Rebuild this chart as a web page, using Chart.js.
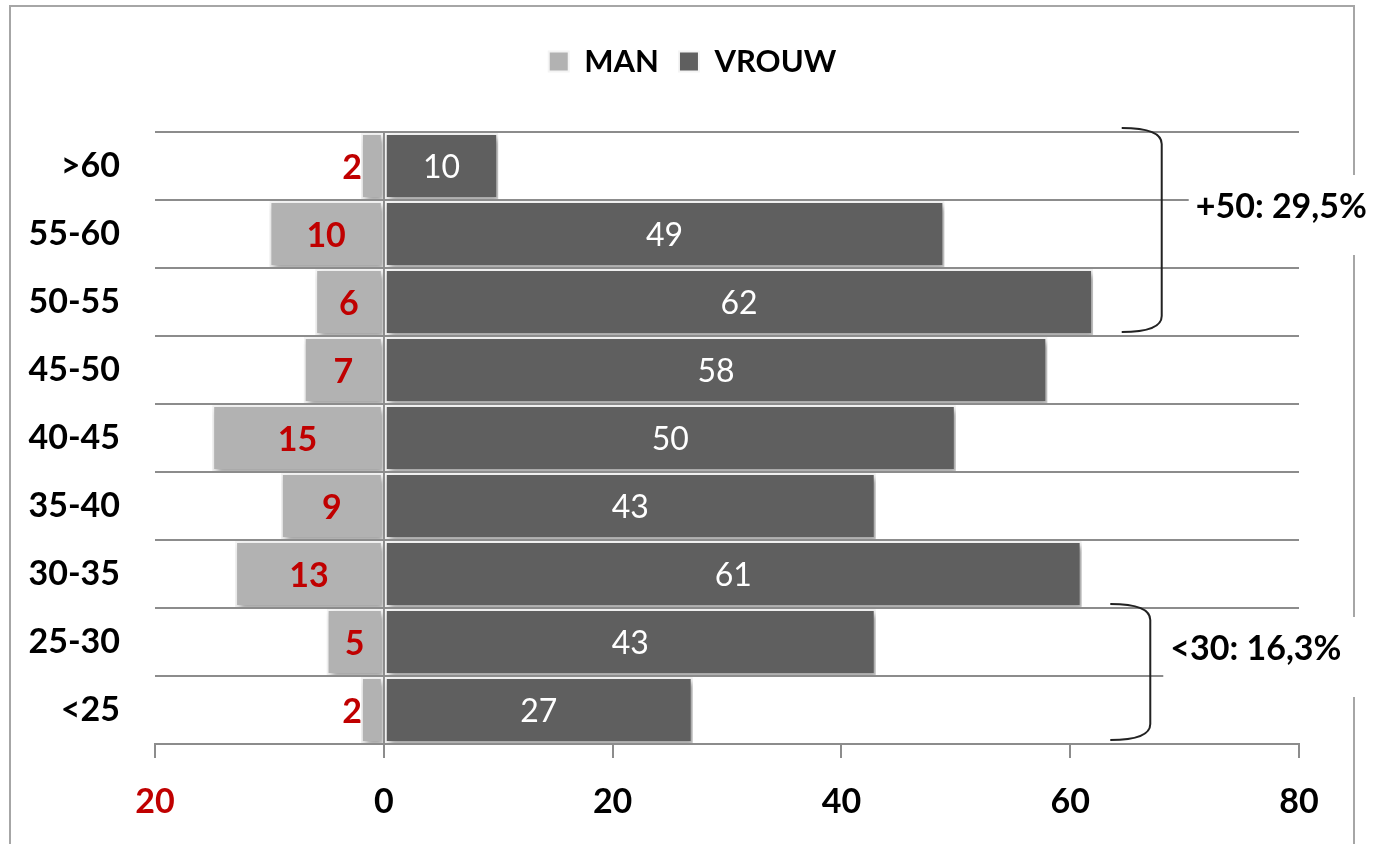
<!DOCTYPE html>
<html>
<head>
<meta charset="utf-8">
<script src="https://cdn.jsdelivr.net/npm/chart.js@4.4.0/dist/chart.umd.min.js"></script>
<style>
  html, body { margin: 0; background: #fff; }
  #wrap { width: 1375px; height: 844px; }
</style>
</head>
<body>
<div id="wrap"><canvas id="pyramidChart"></canvas></div>
<script>
// data
const ageGroups = ['>60', '55-60', '50-55', '45-50', '40-45', '35-40', '30-35', '25-30', '<25'];
const menCounts = [2, 10, 6, 7, 15, 9, 13, 5, 2];
const womenCounts = [10, 49, 62, 58, 50, 43, 61, 43, 27];
const xTickValues = [-20, 0, 20, 40, 60, 80];
const bracketFirst = ['>60', '25-30'];
const bracketLast = ['50-55', '<25'];
const bracketText = ['+50: 29,5%', '<30: 16,3%'];

const GRID = '#8c8c8c';

// men are drawn to the left, so negate
const menNeg = menCounts.map(v => -v);

// bar shadow like the excel original
const barShadow = {
    id: 'barShadow',
    beforeDatasetDraw(chart) {
        const c = chart.ctx;
        c.save();
        c.shadowColor = 'rgba(0,0,0,0.35)';
        c.shadowBlur = 6;
        c.shadowOffsetX = 3;
        c.shadowOffsetY = 4;
    },
    afterDatasetDraw(chart) {
        chart.ctx.restore();
    }
};

// value labels in the bars
const barLabels = {
    id: 'barLabels',
    afterDatasetsDraw(chart) {
        const c = chart.ctx;
        c.save();
        c.textBaseline = 'middle';
        // men
        chart.getDatasetMeta(0).data.forEach((bar, i) => {
            const txt = String(menCounts[i]);
            c.font = 'bold 34px Lato, sans-serif';
            c.fillStyle = '#c00000';
            const w = c.measureText(txt).width;
            const barW = Math.abs(bar.base - bar.x);
            if (w + 8 > barW) {
                c.textAlign = 'right';
                c.fillText(txt, bar.x + 1, bar.y + 2);
            } else {
                c.textAlign = 'center';
                c.fillText(txt, (bar.x + bar.base) / 2, bar.y + 2);
            }
        });
        // women
        chart.getDatasetMeta(1).data.forEach((bar, i) => {
            c.font = '32px Lato, sans-serif';
            c.fillStyle = '#ffffff';
            c.textAlign = 'center';
            c.fillText(String(womenCounts[i]), (bar.x + bar.base) / 2, bar.y + 2);
        });
        c.restore();
    }
};

// frame and the two brackets on the right
const frameAndBrackets = {
    id: 'frameAndBrackets',
    afterDraw(chart) {
        const c = chart.ctx;
        const y = chart.scales.y;
        const x = chart.scales.x;
        const half = (y.getPixelForValue(1) - y.getPixelForValue(0)) / 2;
        c.save();
        // outer frame
        c.strokeStyle = '#a6a6a6';
        c.lineWidth = 2;
        c.strokeRect(10, 6, 1344, 860);

        const vx = [68, 67];     // x value of the bracket spine
        const lx = [34, 20];     // label offset from spine
        bracketText.forEach((txt, k) => {
            const top = y.getPixelForValue(ageGroups.indexOf(bracketFirst[k])) - half - 4;
            const bot = y.getPixelForValue(ageGroups.indexOf(bracketLast[k])) + half - 4;
            const sx = x.getPixelForValue(vx[k]);
            const ex = sx - 40;
            const labelX = sx + lx[k];
            const labelY = (top + bot) / 2 - 23;

            // white text box that covers gridline and frame
            c.fillStyle = '#ffffff';
            c.fillRect(labelX - 7, labelY - 32, 1375 - labelX + 7, 80);

            c.strokeStyle = '#222';
            c.lineWidth = 2;
            c.beginPath();
            c.moveTo(ex, top);
            c.quadraticCurveTo(sx, top, sx, top + 16);
            c.lineTo(sx, bot - 16);
            c.quadraticCurveTo(sx, bot, ex, bot);
            c.stroke();

            c.fillStyle = '#000';
            c.font = 'bold 34px Lato, sans-serif';
            c.textAlign = 'left';
            c.textBaseline = 'middle';
            c.fillText(txt, labelX, labelY);
        });
        c.restore();
    }
};

// make room between legend and plot, and nudge the legend to the right
const legendRoom = {
    id: 'legendRoom',
    beforeInit(chart) {
        const fit = chart.legend.fit;
        chart.legend.fit = function () {
            fit.bind(chart.legend)();
            this.height = 106;
        };
    },
    afterLayout(chart) {
        chart.legend.left += 38;
        chart.legend.right += 38;
    }
};

const ctx = document.getElementById('pyramidChart');
const pyramid = new Chart(ctx, {
    type: 'bar',
    data: {
        labels: ageGroups,
        datasets: [{
            label: 'MAN',
            data: menNeg,
            backgroundColor: '#b2b2b2',
            borderColor: '#f4f4f4',
            borderWidth: 2,
            borderSkipped: false
        }, {
            label: 'VROUW',
            data: womenCounts,
            backgroundColor: '#5f5f5f',
            borderColor: '#f4f4f4',
            borderWidth: 2,
            borderSkipped: false
        }]
    },
    options: {
        indexAxis: 'y',
        responsive: true,
        maintainAspectRatio: false,
        animation: false,
        datasets: {
            bar: { categoryPercentage: 0.97, barPercentage: 1.0 }
        },
        layout: {
            padding: { top: 26, left: 10, right: 76, bottom: 0 }
        },
        plugins: {
            tooltip: { enabled: false },
            legend: {
                position: 'top',
                labels: {
                    boxWidth: 20,
                    boxHeight: 20,
                    padding: 20,
                    color: '#000',
                    font: { family: 'Lato', size: 31, weight: 'bold' }
                }
            }
        },
        scales: {
            x: {
                stacked: true,
                min: -20,
                max: 80,
                afterBuildTicks: s => { s.ticks = xTickValues.map(v => ({ value: v })); },
                afterFit: s => { s.height = 100; },
                ticks: {
                    padding: 24,
                    callback: v => Math.abs(v),
                    color: c => (c.tick && c.tick.value < 0) ? '#c00000' : '#000',
                    font: { family: 'Lato', size: 34, weight: 'bold' }
                },
                grid: {
                    color: c => (c.tick && c.tick.value === 0) ? GRID : 'rgba(0,0,0,0)',
                    tickColor: GRID,
                    tickLength: 14,
                    lineWidth: 2
                },
                border: { display: true, color: GRID, width: 2 }
            },
            y: {
                stacked: true,
                afterFit: s => { s.width = 145; },
                ticks: {
                    padding: 35,
                    color: '#000',
                    font: { family: 'Lato', size: 34, weight: 'bold' }
                },
                grid: {
                    color: GRID,
                    lineWidth: 2,
                    drawTicks: false
                },
                border: { display: false }
            }
        }
    },
    plugins: [legendRoom, barShadow, barLabels, frameAndBrackets]
});
</script>
</body>
</html>
